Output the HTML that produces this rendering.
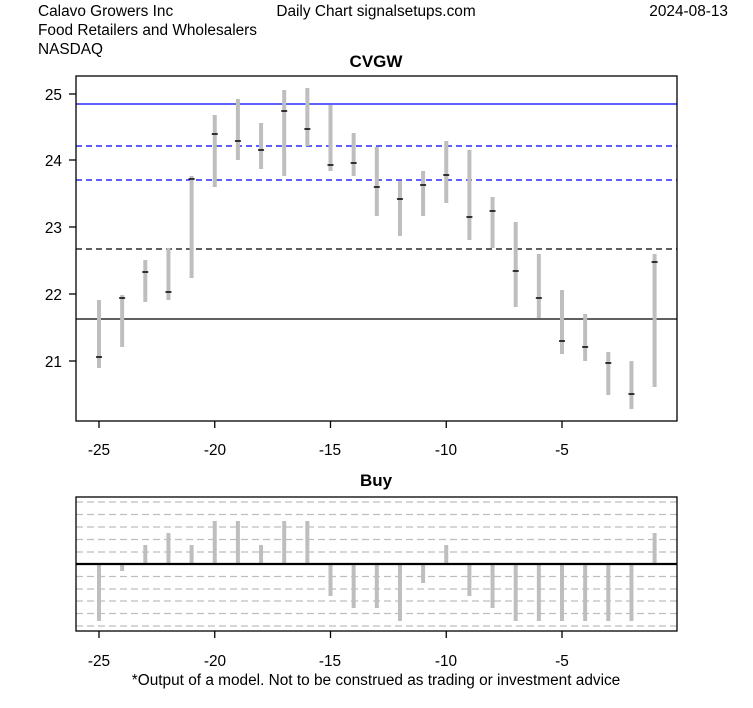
<!DOCTYPE html>
<html><head><style>body{margin:0;background:#fff}svg{display:block}text{font-family:"Liberation Sans",sans-serif}</style></head><body>
<svg width="753" height="708" xmlns="http://www.w3.org/2000/svg">
<rect width="753" height="708" fill="#fff"/>
<g font-size="15.4" fill="#000">
<text x="38" y="16">Calavo Growers Inc</text>
<text x="38" y="35">Food Retailers and Wholesalers</text>
<text x="38" y="54">NASDAQ</text>
<text x="376" y="16" text-anchor="middle">Daily Chart signalsetups.com</text>
<text x="728" y="16" text-anchor="end">2024-08-13</text>
<text x="376" y="67" text-anchor="middle" font-weight="bold" font-size="17">CVGW</text>
<text x="376" y="486" text-anchor="middle" font-weight="bold" font-size="17">Buy</text>
<text x="376" y="685" text-anchor="middle">*Output of a model. Not to be construed as trading or investment advice</text>
</g>
<g stroke-width="1.3">
<line x1="76" x2="677" y1="104" y2="104" stroke="#0000ff"/>
<line x1="76" x2="677" y1="146" y2="146" stroke="#0000ff" stroke-dasharray="6,4"/>
<line x1="76" x2="677" y1="180" y2="180" stroke="#0000ff" stroke-dasharray="6,4"/>
<line x1="76" x2="677" y1="249" y2="249" stroke="#000" stroke-dasharray="6,4"/>
<line x1="76" x2="677" y1="319" y2="319" stroke="#000"/>
</g>
<g id="bars" stroke="#bebebe" stroke-width="4"></g>
<g id="marks" stroke="#000" stroke-width="1.5"></g>
<rect x="76" y="76" width="601" height="345" fill="none" stroke="#000" stroke-width="1.3"/>
<g stroke="#000" stroke-width="1.3">
<line x1="69" x2="76" y1="94" y2="94"/><line x1="69" x2="76" y1="160" y2="160"/><line x1="69" x2="76" y1="227" y2="227"/><line x1="69" x2="76" y1="294" y2="294"/><line x1="69" x2="76" y1="361" y2="361"/>
</g>
<g font-size="15.4" text-anchor="end">
<text x="62" y="100">25</text><text x="62" y="166">24</text><text x="62" y="233">23</text><text x="62" y="300">22</text><text x="62" y="367">21</text>
</g>
<g id="xt1" stroke="#000" stroke-width="1.3"></g>
<g font-size="15.4" text-anchor="middle">
<text x="99" y="455">-25</text><text x="215" y="455">-20</text><text x="330" y="455">-15</text><text x="446" y="455">-10</text><text x="562" y="455">-5</text>
<text x="99" y="666">-25</text><text x="215" y="666">-20</text><text x="330" y="666">-15</text><text x="446" y="666">-10</text><text x="562" y="666">-5</text>
</g>
<g stroke="#bebebe" stroke-width="1.3" stroke-dasharray="7,4">
<line x1="76" x2="677" y1="502" y2="502"/><line x1="76" x2="677" y1="514.5" y2="514.5"/><line x1="76" x2="677" y1="527" y2="527"/><line x1="76" x2="677" y1="539.5" y2="539.5"/><line x1="76" x2="677" y1="552" y2="552"/>
<line x1="76" x2="677" y1="576.5" y2="576.5"/><line x1="76" x2="677" y1="589" y2="589"/><line x1="76" x2="677" y1="601" y2="601"/><line x1="76" x2="677" y1="613.5" y2="613.5"/><line x1="76" x2="677" y1="626" y2="626"/>
</g>
<g id="bb" stroke="#bebebe" stroke-width="4"></g>
<line x1="76" x2="677" y1="564" y2="564" stroke="#000" stroke-width="2.2"/>
<rect x="76" y="497" width="601" height="134" fill="none" stroke="#000" stroke-width="1.3"/>
<script>
var d=[[300,368,357],[295,347,298],[260,302,272],[248,300,292],[176,278,179],[115,187,134],[99,160,141],[123,169,150],[90,176,111],[88,146,129],[105,171,165],[133,176,163],[147,216,187],[181,236,199],[171,216,185],[141,203,175],[150,240,217],[197,248,211],[222,307,271],[254,318,298],[290,354,341],[314,361,347],[352,395,363],[361,409,394],[254,387,262]];
var b=[621,571,545,533,545,521,521,545,521,521,596,608,608,621,583,545,596,608,621,621,621,621,621,621,533];
var ns="http://www.w3.org/2000/svg";
function L(g,x1,y1,x2,y2){var l=document.createElementNS(ns,"line");l.setAttribute("x1",x1);l.setAttribute("y1",y1);l.setAttribute("x2",x2);l.setAttribute("y2",y2);document.getElementById(g).appendChild(l);}
for(var i=0;i<25;i++){var x=99+i*23.15;L("bars",x,d[i][0],x,d[i][1]);L("marks",x-3,d[i][2],x+3,d[i][2]);L("bb",x,564,x,b[i]);}
for(var k=0;k<5;k++){var x=99+k*115.75;L("xt1",x,421,x,428);L("xt1",x,631,x,638);}
</script>
</svg>
</body></html>
